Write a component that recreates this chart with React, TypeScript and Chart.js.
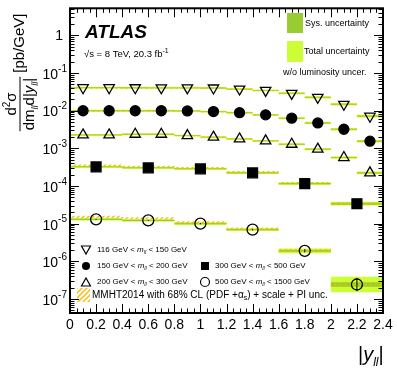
import React, { useEffect, useRef } from "react";
import { Chart, registerables } from "chart.js";

Chart.register(...registerables);

// ---------- data ----------
const binEdgesFine = [0, 0.2, 0.4, 0.6, 0.8, 1.0, 1.2, 1.4, 1.6, 1.8, 2.0, 2.2, 2.4];
const binEdgesWide = [0, 0.4, 0.8, 1.2, 1.6, 2.0, 2.4];

const xTickValues = [0, 0.2, 0.4, 0.6, 0.8, 1.0, 1.2, 1.4, 1.6, 1.8, 2.0, 2.2, 2.4];
const xMinorStep = 0.05;
const yDecadeExponents = [0, -1, -2, -3, -4, -5, -6, -7];

const massLow = [116, 150, 200, 300, 500];
const massHigh = [150, 200, 300, 500, 1500];

const xsec116to150 = [0.0405, 0.0405, 0.0404, 0.0403, 0.0402, 0.0398, 0.0373, 0.0344, 0.0287, 0.0225, 0.0147, 0.0071];
const xsec150to200 = [0.0099, 0.0099, 0.0099, 0.0099, 0.0098, 0.0094, 0.0088, 0.0077, 0.0063, 0.0047, 0.0032, 0.00154];
const xsec200to300 = [0.00226, 0.00226, 0.00236, 0.00236, 0.00217, 0.00197, 0.00177, 0.00157, 0.00128, 0.000946, 0.000568, 0.000223];
const xsec300to500 = [3.22e-4, 3.03e-4, 2.85e-4, 2.23e-4, 1.16e-4, 3.38e-5];
const xsec500to1500 = [1.3e-5, 1.22e-5, 1.0e-5, 6.94e-6, 1.9e-6, 2.43e-7];

// relative uncertainties
const totUncFine = [0.06, 0.06, 0.06, 0.06, 0.06, 0.06, 0.06, 0.06, 0.065, 0.07, 0.075, 0.085];
const sysUncFine = [0.025, 0.025, 0.025, 0.025, 0.025, 0.025, 0.025, 0.025, 0.03, 0.03, 0.035, 0.04];
const totUnc300to500 = [0.07, 0.07, 0.07, 0.075, 0.085, 0.12];
const sysUnc300to500 = [0.03, 0.03, 0.03, 0.035, 0.04, 0.06];
const totUnc500to1500 = [0.08, 0.08, 0.085, 0.09, 0.15, 0.6];
const sysUnc500to1500 = [0.035, 0.035, 0.04, 0.04, 0.06, 0.15];
const statUnc500to1500 = [0.03, 0.03, 0.035, 0.045, 0.1, 0.5];

// MMHT2014 prediction / data
const mmhtRatio116to150 = [0.975, 0.975, 0.975, 0.975, 0.975, 0.98, 0.98, 0.985, 0.99, 0.99, 1.0, 1.0];
const mmhtRatio150to200 = [0.975, 0.975, 0.975, 0.975, 0.98, 0.98, 0.98, 0.985, 0.99, 1.0, 1.0, 1.0];
const mmhtRatio200to300 = [1.0, 1.0, 1.0, 1.0, 1.0, 1.0, 1.0, 1.0, 1.0, 1.0, 1.0, 1.0];
const mmhtRatio300to500 = [1.09, 1.08, 1.07, 1.06, 1.05, 1.02];
const mmhtRatio500to1500 = [1.17, 1.14, 1.08, 1.06, 1.05, 1.0];
const mmhtRelUnc = [0.035, 0.035, 0.035, 0.05, 0.07];

// ---------- helpers ----------
const FONT = '"Liberation Sans", Arial, Helvetica, sans-serif';
const COL_TOT = "#ccff33";
const COL_SYS = "#99cc33";

type Part = { t: string; size: number; italic?: boolean; bold?: boolean; dy?: number };

function setFont(ctx: CanvasRenderingContext2D, p: Part) {
  ctx.font = `${p.italic ? "italic " : ""}${p.bold ? "bold " : ""}${p.size}px ${FONT}`;
}
function measureRich(ctx: CanvasRenderingContext2D, parts: Part[]) {
  let w = 0;
  for (const p of parts) {
    setFont(ctx, p);
    w += ctx.measureText(p.t).width;
  }
  return w;
}
function drawRich(ctx: CanvasRenderingContext2D, parts: Part[], x: number, y: number) {
  let cx = x;
  for (const p of parts) {
    setFont(ctx, p);
    ctx.fillText(p.t, cx, y + (p.dy || 0));
    cx += ctx.measureText(p.t).width;
  }
  return cx - x;
}

function steps(edges: number[], vals: number[], f: (v: number, i: number) => number) {
  const pts: { x: number; y: number }[] = [];
  vals.forEach((v, i) => {
    const y = f(v, i);
    pts.push({ x: edges[i], y }, { x: edges[i + 1], y });
  });
  return pts;
}

function makeHatch(): CanvasPattern | string {
  const c = document.createElement("canvas");
  c.width = 5;
  c.height = 5;
  const g = c.getContext("2d");
  if (!g) return "#ffbb00";
  g.strokeStyle = "#ffb700";
  g.lineWidth = 1.4;
  g.beginPath();
  g.moveTo(0, 5);
  g.lineTo(5, 0);
  g.moveTo(-1, 1);
  g.lineTo(1, -1);
  g.moveTo(4, 6);
  g.lineTo(6, 4);
  g.stroke();
  const pat = g.createPattern(c, "repeat");
  return pat || "#ffbb00";
}

const decorPlugin = {
  id: "atlasDecor",
  afterDraw(chart: any) {
    const ctx: CanvasRenderingContext2D = chart.ctx;
    const { left, right, top, bottom } = chart.chartArea;
    const xs = chart.scales.x;
    const ys = chart.scales.y;
    ctx.save();
    ctx.fillStyle = "#000";
    ctx.strokeStyle = "#000";

    // ticks
    ctx.lineWidth = 1;
    ctx.beginPath();
    const nMinor = Math.round(2.4 / xMinorStep);
    for (let i = 0; i <= nMinor; i++) {
      const v = i * xMinorStep;
      const px = Math.round(xs.getPixelForValue(v)) + 0.5;
      const len = i % 4 === 0 ? 9 : 4.5;
      ctx.moveTo(px, bottom);
      ctx.lineTo(px, bottom - len);
      ctx.moveTo(px, top);
      ctx.lineTo(px, top + len);
    }
    for (let d = -8; d <= 1; d++) {
      for (let m = 1; m <= 9; m++) {
        const v = m * Math.pow(10, d);
        if (v < ys.min || v > ys.max) continue;
        const py = Math.round(ys.getPixelForValue(v)) + 0.5;
        const len = m === 1 ? 9 : 4.5;
        ctx.moveTo(left, py);
        ctx.lineTo(left + len, py);
        ctx.moveTo(right, py);
        ctx.lineTo(right - len, py);
      }
    }
    ctx.stroke();

    // frame
    ctx.lineWidth = 2;
    ctx.strokeRect(left, top, right - left, bottom - top);

    // y tick labels
    ctx.textBaseline = "middle";
    ctx.textAlign = "left";
    for (const e of yDecadeExponents) {
      const py = ys.getPixelForValue(Math.pow(10, e));
      if (e === 0) {
        ctx.font = `14px ${FONT}`;
        const w = ctx.measureText("1").width;
        ctx.fillText("1", 63 - w, py + 1);
      } else {
        const parts: Part[] = [
          { t: "10", size: 14, dy: 2 },
          { t: String(e), size: 10, dy: -4 },
        ];
        const w = measureRich(ctx, parts);
        drawRich(ctx, parts, 67 - w, py);
      }
    }

    // x axis title
    ctx.textBaseline = "alphabetic";
    drawRich(
      ctx,
      [
        { t: "|", size: 20 },
        { t: "y", size: 20, italic: true },
        { t: "ll", size: 12, italic: true, dy: 5 },
        { t: "|", size: 20 },
      ],
      358,
      361
    );

    // y axis title (rotated)
    ctx.save();
    ctx.translate(20, 104);
    ctx.rotate(-Math.PI / 2);
    const num: Part[] = [
      { t: "d", size: 15 },
      { t: "2", size: 10, dy: -6 },
      { t: "σ", size: 15 },
    ];
    const den: Part[] = [
      { t: "dm", size: 15 },
      { t: "ll", size: 9, italic: true, dy: 4 },
      { t: "d|", size: 15 },
      { t: "y", size: 15, italic: true },
      { t: "ll", size: 9, italic: true, dy: 4 },
      { t: "|", size: 15 },
    ];
    const wNum = measureRich(ctx, num);
    const wDen = measureRich(ctx, den);
    const wF = Math.max(wNum, wDen) + 2;
    drawRich(ctx, num, -wNum / 2, -4);
    drawRich(ctx, den, -wDen / 2, 14);
    ctx.fillRect(-wF / 2, -0.5, wF, 1);
    drawRich(ctx, [{ t: "[pb/GeV]", size: 15 }], wF / 2 + 4, 4);
    ctx.restore();

    // ATLAS label
    drawRich(ctx, [{ t: "ATLAS", size: 19, bold: true, italic: true }], 85, 38);
    drawRich(
      ctx,
      [
        { t: "√s = 8 TeV, 20.3 fb", size: 9.5 },
        { t: "-1", size: 7, dy: -4 },
      ],
      84,
      57
    );

    // top-right legend
    ctx.fillStyle = COL_SYS;
    ctx.fillRect(287, 13, 16, 20);
    ctx.fillStyle = COL_TOT;
    ctx.fillRect(287, 41, 16, 21);
    ctx.fillStyle = "#000";
    ctx.textBaseline = "middle";
    drawRich(ctx, [{ t: "Sys. uncertainty", size: 9 }], 305, 24);
    drawRich(ctx, [{ t: "Total uncertainty", size: 9 }], 304, 52);
    drawRich(ctx, [{ t: "w/o luminosity uncer.", size: 9 }], 283, 73);

    // bottom legend
    const massLabel = (i: number): Part[] => [
      { t: `${massLow[i]} GeV < `, size: 8 },
      { t: "m", size: 8, italic: true },
      { t: "ll", size: 5.5, italic: true, dy: 2.5 },
      { t: ` < ${massHigh[i]} GeV`, size: 8 },
    ];
    ctx.lineWidth = 1.2;
    // down triangle
    ctx.beginPath();
    ctx.moveTo(81.5, 246);
    ctx.lineTo(90.5, 246);
    ctx.lineTo(86, 254);
    ctx.closePath();
    ctx.stroke();
    drawRich(ctx, massLabel(0), 97, 250);
    // filled circle
    ctx.beginPath();
    ctx.arc(86, 266, 4, 0, Math.PI * 2);
    ctx.fill();
    drawRich(ctx, massLabel(1), 97, 266);
    // up triangle
    ctx.beginPath();
    ctx.moveTo(81.5, 286);
    ctx.lineTo(90.5, 286);
    ctx.lineTo(86, 278);
    ctx.closePath();
    ctx.stroke();
    drawRich(ctx, massLabel(2), 97, 282);
    // square
    ctx.fillRect(201, 262, 8, 8);
    drawRich(ctx, massLabel(3), 215, 266);
    // open circle
    ctx.beginPath();
    ctx.arc(205, 282, 4.5, 0, Math.PI * 2);
    ctx.stroke();
    drawRich(ctx, massLabel(4), 215, 282);
    // hatched box
    ctx.fillStyle = chart.$hatch || "#ffbb00";
    ctx.fillRect(77, 288, 13, 14);
    ctx.fillStyle = "#000";
    drawRich(
      ctx,
      [
        { t: "MMHT2014 with 68% CL (PDF +α", size: 10 },
        { t: "s", size: 7, dy: 3 },
        { t: ") + scale + PI unc.", size: 10 },
      ],
      92,
      295
    );
    ctx.restore();
  },
};

export default function App() {
  const ref = useRef<HTMLCanvasElement | null>(null);

  useEffect(() => {
    if (!ref.current) return;
    const hatch = makeHatch();

    const series = [
      { edges: binEdgesFine, vals: xsec116to150, tot: totUncFine, sys: sysUncFine, ratio: mmhtRatio116to150, thUnc: mmhtRelUnc[0], style: "triangle", rot: 180, r: 6, fill: "rgba(0,0,0,0)" },
      { edges: binEdgesFine, vals: xsec150to200, tot: totUncFine, sys: sysUncFine, ratio: mmhtRatio150to200, thUnc: mmhtRelUnc[1], style: "circle", rot: 0, r: 5, fill: "#000" },
      { edges: binEdgesFine, vals: xsec200to300, tot: totUncFine, sys: sysUncFine, ratio: mmhtRatio200to300, thUnc: mmhtRelUnc[2], style: "triangle", rot: 0, r: 6, fill: "rgba(0,0,0,0)" },
      { edges: binEdgesWide, vals: xsec300to500, tot: totUnc300to500, sys: sysUnc300to500, ratio: mmhtRatio300to500, thUnc: mmhtRelUnc[3], style: "rect", rot: 0, r: 7, fill: "#000" },
      { edges: binEdgesWide, vals: xsec500to1500, tot: totUnc500to1500, sys: sysUnc500to1500, ratio: mmhtRatio500to1500, thUnc: mmhtRelUnc[4], style: "circle", rot: 0, r: 5.5, fill: "rgba(0,0,0,0)", stat: statUnc500to1500 },
    ];

    const band = (data: any[], color: any, order: number, fill: any) => ({
      type: "line",
      data,
      borderColor: "rgba(0,0,0,0)",
      borderWidth: 1,
      backgroundColor: color,
      pointRadius: 0,
      fill,
      order,
      tension: 0,
    });

    const datasets: any[] = [];
    for (const s of series) {
      datasets.push(band(steps(s.edges, s.vals, (v, i) => v * (1 + s.tot[i])), COL_TOT, 6, "+1"));
      datasets.push(band(steps(s.edges, s.vals, (v, i) => v / (1 + s.tot[i])), "rgba(0,0,0,0)", 6, false));
      datasets.push(band(steps(s.edges, s.vals, (v, i) => v * (1 + s.sys[i])), COL_SYS, 5, "+1"));
      datasets.push(band(steps(s.edges, s.vals, (v, i) => v / (1 + s.sys[i])), "rgba(0,0,0,0)", 5, false));
      datasets.push(band(steps(s.edges, s.vals, (v, i) => v * s.ratio[i] * (1 + s.thUnc)), hatch, 4, "+1"));
      datasets.push(band(steps(s.edges, s.vals, (v, i) => (v * s.ratio[i]) / (1 + s.thUnc)), "rgba(0,0,0,0)", 4, false));
      const centers = s.vals.map((v, i) => ({ x: (s.edges[i] + s.edges[i + 1]) / 2, y: v }));
      if (s.stat) {
        const eb: any[] = [];
        s.vals.forEach((v, i) => {
          const cx = centers[i].x;
          eb.push({ x: cx, y: v / (1 + s.stat![i]) }, { x: cx, y: v * (1 + s.stat![i]) }, { x: cx, y: null });
        });
        datasets.push({
          type: "line",
          data: eb,
          borderColor: "#000",
          borderWidth: 1,
          pointRadius: 0,
          spanGaps: false,
          fill: false,
          order: 2,
        });
      }
      datasets.push({
        type: "line",
        data: centers,
        showLine: false,
        fill: false,
        pointStyle: s.style,
        pointRotation: s.rot,
        pointRadius: s.r,
        pointBackgroundColor: s.fill,
        pointBorderColor: "#000",
        pointBorderWidth: 1.3,
        order: 1,
      });
    }

    const chart: any = new Chart(ref.current, {
      type: "line",
      data: { datasets },
      options: {
        responsive: false,
        animation: false,
        devicePixelRatio: 1,
        events: [],
        layout: { padding: { top: 7, right: 14, left: 0, bottom: 0 } },
        plugins: {
          legend: { display: false },
          tooltip: { enabled: false },
          filler: { propagate: false },
        },
        scales: {
          x: {
            type: "linear",
            min: 0,
            max: 2.4,
            grid: { display: false, drawTicks: false },
            border: { display: false },
            afterBuildTicks: (s: any) => {
              s.ticks = xTickValues.map((v) => ({ value: v }));
            },
            ticks: {
              autoSkip: false,
              maxRotation: 0,
              padding: 4,
              color: "#000",
              font: { family: FONT, size: 14 },
              callback: (v: any) => String(Math.round(Number(v) * 10) / 10),
            },
            afterFit: (s: any) => {
              s.height = 58;
            },
          },
          y: {
            type: "logarithmic",
            min: 4.26e-8,
            max: 5.18,
            grid: { display: false, drawTicks: false },
            border: { display: false },
            ticks: { display: false },
            afterFit: (s: any) => {
              s.width = 70;
            },
          },
        },
      } as any,
      plugins: [decorPlugin as any],
    });
    chart.$hatch = hatch;
    chart.draw();
    return () => chart.destroy();
  }, []);

  return (
    <div style={{ position: "absolute", left: 0, top: 0, width: 397, height: 371, background: "#fff" }}>
      <canvas ref={ref} width={397} height={371} style={{ display: "block", width: 397, height: 371 }} />
    </div>
  );
}
